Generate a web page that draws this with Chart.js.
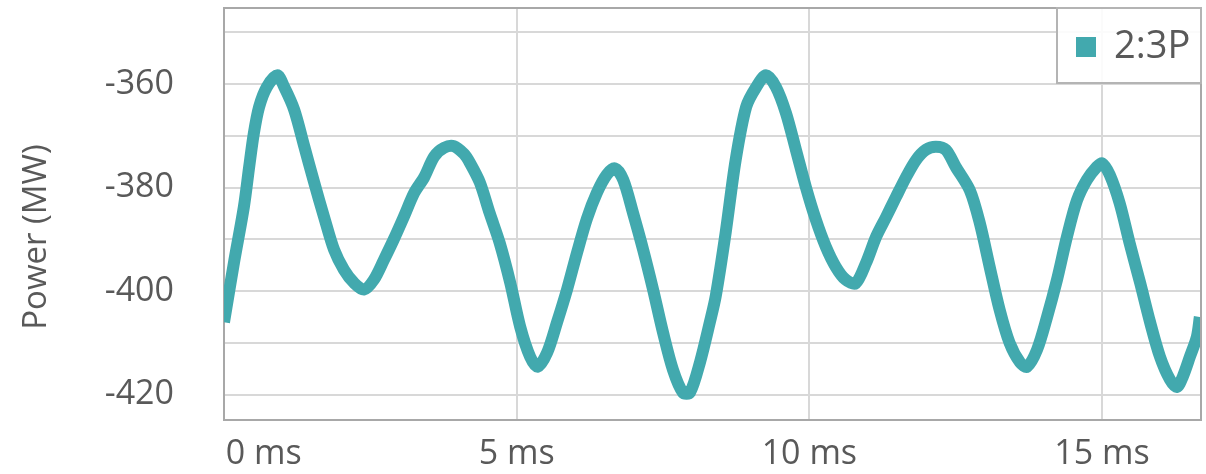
<!DOCTYPE html>
<html lang="en">
<head>
    <meta charset="UTF-8">
    <title>2:3P Power</title>
    <script src="https://cdn.jsdelivr.net/npm/chart.js"></script>
    <style>
        html, body {
            margin: 0;
            padding: 0;
            background: white;
        }
        .wrap {
            width: 1206px;
            height: 474px;
        }
    </style>
</head>
<body>
    <div class="wrap">
        <canvas id="myChart" width="1206" height="474"></canvas>
    </div>
    <script>
        // series (time in ms, power in MW)
        const seriesLabel = '2:3P';
        const timeMs = [
            0, 0.17, 0.34, 0.43, 0.51, 0.60, 0.73, 0.91, 1.03, 1.20,
            1.37, 1.54, 1.71, 1.88, 2.05, 2.22, 2.39, 2.56, 2.73, 2.90,
            3.07, 3.25, 3.42, 3.59, 3.76, 3.93, 4.10, 4.20, 4.37, 4.54,
            4.71, 4.89, 5.06, 5.23, 5.36, 5.52, 5.69, 5.86, 6.03, 6.20,
            6.37, 6.54, 6.68, 6.82, 6.99, 7.16, 7.33, 7.50, 7.67, 7.84,
            7.96, 8.13, 8.30, 8.40, 8.57, 8.74, 8.92, 9.09, 9.26, 9.43,
            9.60, 9.77, 9.94, 10.11, 10.28, 10.45, 10.62, 10.79, 10.97, 11.14,
            11.31, 11.48, 11.65, 11.82, 11.99, 12.16, 12.33, 12.50, 12.74, 12.91,
            13.08, 13.25, 13.42, 13.60, 13.72, 13.89, 14.06, 14.23, 14.40, 14.57,
            14.74, 14.91, 15.00, 15.13, 15.30, 15.47, 15.65, 15.82, 15.99, 16.16,
            16.28, 16.38, 16.50, 16.62, 16.67
        ];
        const powerMW = [
            -406, -394.5, -383.7, -376, -369.5, -364.4, -360.6, -358.3, -360.6, -365,
            -372, -379, -385.7, -392, -395.9, -398.4, -399.7, -397.8, -394, -390,
            -385.7, -381, -378, -374, -372.3, -372, -373.5, -375.2, -379, -385,
            -390.7, -398.4, -406.9, -412.7, -414.6, -411.9, -406, -399.7, -392.6, -386,
            -381, -377.5, -376.3, -378.5, -385, -392, -399.7, -408, -415.2, -419.6,
            -419.6, -413.8, -406, -401, -388.7, -374.7, -364.4, -360.6, -358.3, -360.6,
            -365.6, -372.7, -379.9, -386.2, -391.4, -395.3, -397.8, -398.5, -394.5, -389.5,
            -385.7, -381.8, -378, -374.7, -372.7, -372.1, -372.7, -376, -380.5, -386.8,
            -395.3, -403.6, -410, -413.8, -414.6, -411.3, -405, -397.8, -389.5, -382.5,
            -378.5, -376, -375.3, -377.5, -383, -390.7, -398.4, -406, -412.7, -417.1,
            -418.5, -416.5, -412.7, -408.8, -405
        ];

        // axis ticks
        const xTicks = [0, 5, 10, 15];
        const yGrid = [-420, -410, -400, -390, -380, -370, -360, -350];
        const yLabelStep = 20;

        const lineColor = '#42a9ae';
        const textColor = '#595959';
        const gridColor = '#d8d8d8';
        const frameColor = '#a8a8a8';

        // top/right frame of the plot, plus the boxed legend
        const framePlugin = {
            id: 'frame',
            afterDatasetsDraw(chart) {
                const { ctx, chartArea } = chart;
                ctx.save();
                ctx.strokeStyle = frameColor;
                ctx.lineWidth = 2;
                ctx.beginPath();
                ctx.moveTo(chartArea.left, chartArea.top);
                ctx.lineTo(chartArea.right, chartArea.top);
                ctx.lineTo(chartArea.right, chartArea.bottom);
                ctx.stroke();

                // legend box
                const bx = chartArea.right - 144, by = chartArea.top;
                const bw = 144, bh = 75;
                ctx.fillStyle = 'rgba(255,255,255,0.88)';
                ctx.fillRect(bx, by, bw, bh);
                ctx.strokeStyle = '#b4b4b4';
                ctx.strokeRect(bx, by, bw, bh);
                ctx.fillStyle = lineColor;
                ctx.fillRect(bx + 19, by + 29, 20, 20);
                ctx.fillStyle = textColor;
                ctx.font = '38px "Open Sans"';
                ctx.textBaseline = 'middle';
                ctx.textAlign = 'left';
                ctx.fillText(chart.data.datasets[0].label, bx + 57, by + 39);
                ctx.restore();
            },
            afterDraw(chart) {
                // y axis title, centred on the full canvas height
                const { ctx } = chart;
                ctx.save();
                ctx.translate(37, chart.height / 2);
                ctx.rotate(-Math.PI / 2);
                ctx.fillStyle = textColor;
                ctx.font = '33px "Open Sans"';
                ctx.textAlign = 'center';
                ctx.textBaseline = 'middle';
                ctx.fillText('Power (MW)', 0, 0);
                ctx.restore();
            }
        };

        const ctx = document.getElementById('myChart').getContext('2d');
        const myChart = new Chart(ctx, {
            type: 'line',
            data: {
                datasets: [{
                    label: seriesLabel,
                    data: timeMs.map((t, i) => ({ x: t, y: powerMW[i] })),
                    borderColor: lineColor,
                    backgroundColor: lineColor,
                    borderWidth: 12,
                    pointRadius: 0,
                    tension: 0.3,
                    fill: false
                }]
            },
            options: {
                responsive: false,
                animation: false,
                layout: {
                    padding: { left: 0, top: 8, right: 5, bottom: 0 }
                },
                plugins: {
                    legend: { display: false },
                    tooltip: { enabled: false }
                },
                scales: {
                    x: {
                        type: 'linear',
                        min: 0,
                        max: 16.69,
                        afterBuildTicks: (s) => { s.ticks = xTicks.map(v => ({ value: v })); },
                        afterFit: (s) => { s.height = 54; },
                        grid: { color: gridColor, lineWidth: 2, drawTicks: false },
                        border: { color: frameColor, width: 2 },
                        ticks: {
                            color: textColor,
                            font: { family: 'Open Sans', size: 34 },
                            padding: 14,
                            maxRotation: 0,
                            autoSkip: false,
                            // first label sits inside the plot, as in the source chart
                            callback: (v) => (v === 0 ? '         ' : '') + v + ' ms'
                        }
                    },
                    y: {
                        min: -424.9,
                        max: -345.3,
                        afterBuildTicks: (s) => { s.ticks = yGrid.map(v => ({ value: v })); },
                        afterFit: (s) => {
                            s.width = 224;
                            s.paddingTop = 0;
                            s.paddingBottom = 0;
                        },
                        grid: { color: gridColor, lineWidth: 2, drawTicks: false },
                        border: { color: frameColor, width: 2 },
                        ticks: {
                            color: textColor,
                            font: { family: 'Open Sans', size: 34 },
                            padding: 50,
                            autoSkip: false,
                            callback: (v) => (v % yLabelStep === 0 ? v : '')
                        }
                    }
                }
            },
            plugins: [framePlugin]
        });
    </script>
</body>
</html>
